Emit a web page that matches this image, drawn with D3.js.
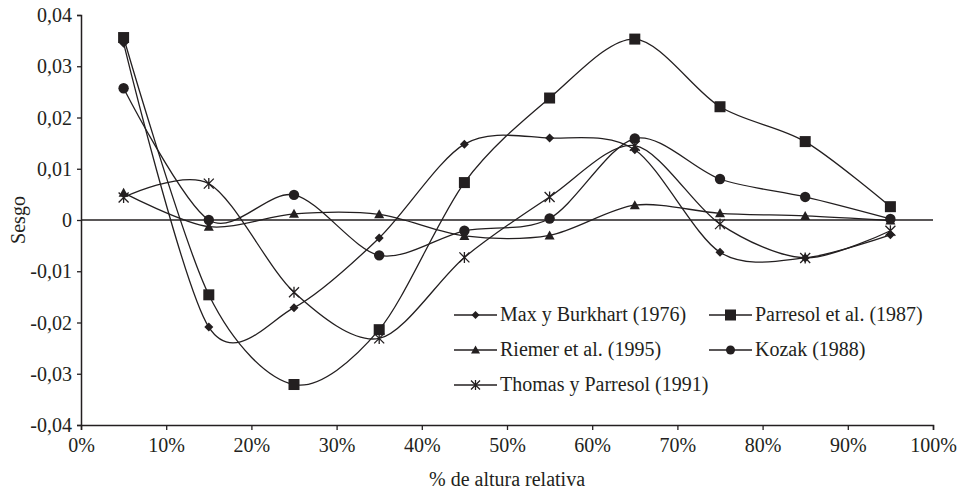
<!DOCTYPE html>
<html><head><meta charset="utf-8">
<script src="https://cdn.jsdelivr.net/npm/d3@7"></script>
<style>body{margin:0;background:#fff}</style>
</head><body>
<svg id="c" width="964" height="495"></svg>
<script>
const heights = [0.05,0.15,0.25,0.35,0.45,0.55,0.65,0.75,0.85,0.95];
const maxBurkhart = [0.0345,-0.0209,-0.0171,-0.0035,0.0148,0.0160,0.0137,-0.0063,-0.0074,-0.0029];
const parresol    = [0.0356,-0.0146,-0.0321,-0.0214,0.0073,0.0238,0.0353,0.0221,0.0153,0.0026];
const riemer      = [0.0053,-0.0013,0.0012,0.0011,-0.0031,-0.0030,0.0029,0.0013,0.0008,-0.0001];
const kozak       = [0.0257,0.0000,0.0049,-0.0069,-0.0021,0.0003,0.0159,0.0080,0.0045,0.0002];
const thomas      = [0.0044,0.0071,-0.0141,-0.0231,-0.0073,0.0045,0.0145,-0.0008,-0.0074,-0.0021];
const seriesNames = ["Max y Burkhart (1976)","Parresol et al. (1987)","Riemer et al. (1995)","Kozak (1988)","Thomas y Parresol (1991)"];
const seriesValues = [maxBurkhart, parresol, riemer, kozak, thomas];
const seriesMarkers = ["diamond","square","triangle","circle","star"];
const xTicks = [0,0.1,0.2,0.3,0.4,0.5,0.6,0.7,0.8,0.9,1.0];
const yTicks = [-0.04,-0.03,-0.02,-0.01,0,0.01,0.02,0.03,0.04];
const xTitle = "% de altura relativa";
const yTitle = "Sesgo";

const FONT = "'Liberation Serif', 'Tinos', 'Times New Roman', serif";
const svg = d3.select("#c");
const ink = "#231f20";
const x = d3.scaleLinear().domain([0,1]).range([81,933]);
const y = d3.scaleLinear().domain([-0.04,0.04]).range([425,15]);
const fmtY = v => v===0 ? "0" : d3.format(".2f")(v).replace(".",",").replace("−","-");

// zero line
svg.append("line").attr("x1",x(0)).attr("x2",x(1)).attr("y1",y(0)).attr("y2",y(0))
  .attr("stroke",ink).attr("stroke-width",1.3);

// axes
const yAxis = svg.append("g").attr("transform",`translate(${x(0)},0)`)
  .call(d3.axisLeft(y).tickValues(yTicks).tickFormat(fmtY).tickSize(4).tickPadding(5));
const xAxis = svg.append("g").attr("transform",`translate(0,${y(-0.04)})`)
  .call(d3.axisBottom(x).tickValues(xTicks).tickFormat(d=>Math.round(d*100)+"%").tickSize(5).tickPadding(8));
[yAxis,xAxis].forEach(g=>{
  g.attr("font-family",null).attr("font-size",null);
  g.selectAll("path").attr("stroke",ink).attr("stroke-width",1.5);
  g.selectAll("line").attr("stroke",ink).attr("stroke-width",1.3);
  g.selectAll("text").style("font-family",FONT).style("font-size","20px").style("fill",ink);
});
yAxis.selectAll("text").attr("dy","0.33em");

// titles
svg.append("text").attr("x",x(0.5)).attr("y",486).attr("text-anchor","middle")
  .style("font-family",FONT).style("font-size","20px").style("fill",ink).text(xTitle);
svg.append("text").attr("transform","translate(25,220) rotate(-90)").attr("text-anchor","middle")
  .style("font-family",FONT).style("font-size","20px").style("fill",ink).text(yTitle);

function marker(g, type, cx, cy, s){
  const k = s;
  if(type==="diamond"){
    g.append("path").attr("d",`M${cx},${cy-k}L${cx+k},${cy}L${cx},${cy+k}L${cx-k},${cy}Z`).attr("fill",ink);
  } else if(type==="square"){
    g.append("rect").attr("x",cx-k).attr("y",cy-k).attr("width",2*k).attr("height",2*k).attr("fill",ink);
  } else if(type==="triangle"){
    g.append("path").attr("d",`M${cx},${cy-k}L${cx+k},${cy+k*0.8}L${cx-k},${cy+k*0.8}Z`).attr("fill",ink);
  } else if(type==="circle"){
    g.append("circle").attr("cx",cx).attr("cy",cy).attr("r",k).attr("fill",ink);
  } else if(type==="star"){
    g.append("path").attr("d",`M${cx-k},${cy-k}L${cx+k},${cy+k}M${cx+k},${cy-k}L${cx-k},${cy+k}M${cx},${cy-k*1.1}L${cx},${cy+k*1.1}`)
      .attr("stroke",ink).attr("stroke-width",1.3).attr("fill","none");
  }
}
const mSize = {diamond:4.5,square:5.5,triangle:5,circle:5.2,star:5};
const lMSize = {diamond:4,square:5.5,triangle:4.5,circle:4.5,star:4.5};

const line = d3.line().x(d=>x(d[0])).y(d=>y(d[1])).curve(d3.curveCardinal.tension(0.1));
seriesValues.forEach((vals,i)=>{
  const pts = heights.map((h,j)=>[h,vals[j]]);
  svg.append("path").attr("d",line(pts)).attr("fill","none").attr("stroke",ink).attr("stroke-width",1.3);
});
seriesValues.forEach((vals,i)=>{
  const g = svg.append("g");
  heights.forEach((h,j)=>marker(g, seriesMarkers[i], x(h), y(vals[j]), mSize[seriesMarkers[i]]));
});

// legend
const legCols = [454, 709];
const legRows = [321, 356, 391];
seriesNames.forEach((name,i)=>{
  const cx = legCols[i%2], by = legRows[Math.floor(i/2)];
  const g = svg.append("g");
  const ly = by - 6;
  g.append("line").attr("x1",cx).attr("x2",cx+43).attr("y1",ly).attr("y2",ly).attr("stroke",ink).attr("stroke-width",1.3);
  marker(g, seriesMarkers[i], cx+21.5, ly, lMSize[seriesMarkers[i]]);
  g.append("text").attr("x",cx+46).attr("y",by)
    .style("font-family",FONT).style("font-size","20px").style("fill",ink).text(name);
});
</script>
</body></html>
